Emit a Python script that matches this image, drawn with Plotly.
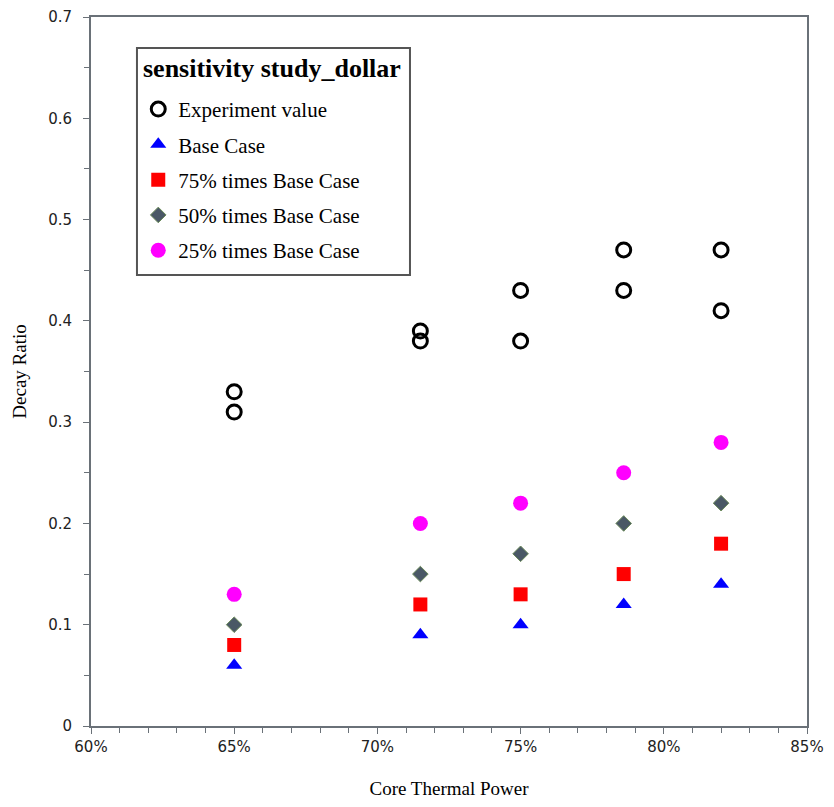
import plotly.graph_objects as go

power = [0.65, 0.715, 0.75, 0.786, 0.82]
exp_power = [0.65, 0.65, 0.715, 0.715, 0.75, 0.75, 0.786, 0.786, 0.82, 0.82]
exp_values = [0.33, 0.31, 0.39, 0.38, 0.43, 0.38, 0.47, 0.43, 0.47, 0.41]
base_case = [0.06, 0.09, 0.10, 0.12, 0.14]
case_75 = [0.08, 0.12, 0.13, 0.15, 0.18]
case_50 = [0.10, 0.15, 0.17, 0.20, 0.22]
case_25 = [0.13, 0.20, 0.22, 0.25, 0.28]
legend_title = "sensitivity study_dollar"

fig = go.Figure()
fig.add_trace(go.Scatter(x=exp_power, y=exp_values, mode="markers", name="Experiment value", legendgroup="a",
                         marker=dict(symbol="circle-open", size=14, color="black", line=dict(width=3, color="black"))))
fig.add_trace(go.Scatter(x=power, y=base_case, mode="markers", name="Base Case", legendgroup="b",
                         marker=dict(symbol="triangle-up", size=14, color="#0000ff")))
fig.add_trace(go.Scatter(x=power, y=case_75, mode="markers", name="75% times Base Case", legendgroup="c",
                         marker=dict(symbol="square", size=14, color="#ff0000")))
fig.add_trace(go.Scatter(x=power, y=case_50, mode="markers", name="50% times Base Case", legendgroup="d",
                         marker=dict(symbol="diamond", size=12, color="#4a5866", line=dict(width=1, color="#6b8a5a"))))
fig.add_trace(go.Scatter(x=power, y=case_25, mode="markers", name="25% times Base Case", legendgroup="e",
                         marker=dict(symbol="circle", size=15, color="#ff00ff")))

# legend frame and title
fig.add_shape(type="rect", xref="paper", yref="paper", x0=0.0642, x1=0.4455, y0=0.6361, y1=0.9563,
              line=dict(color="#555555", width=2), fillcolor="white", layer="below")
fig.add_annotation(text="<b>" + legend_title + "</b>", xref="paper", yref="paper", x=0.2528, y=0.928,
                   xanchor="center", yanchor="middle", showarrow=False,
                   font=dict(family="Liberation Serif", size=26, color="black"))

axis_color = "#6a7178"
fig.update_layout(
    width=818, height=791,
    margin=dict(l=83, r=19, t=9, b=73, autoexpand=False),
    plot_bgcolor="white", paper_bgcolor="white",
    showlegend=True,
    legend=dict(
        font=dict(family="Liberation Serif", size=21, color="black"),
        x=0.066, y=0.8986, xanchor="left", yanchor="top",
        bgcolor="rgba(0,0,0,0)", borderwidth=0,
        itemwidth=30, tracegroupgap=5,
    ),
    xaxis=dict(
        range=[0.60, 0.85], dtick=0.05, tick0=0.60, tickformat=".0%",
        showgrid=False, zeroline=False,
        showline=True, linecolor=axis_color, linewidth=2, mirror=True,
        ticks="outside", ticklen=6, tickcolor=axis_color, tickwidth=1,
        minor=dict(dtick=0.01, ticks="outside", ticklen=5, tickcolor=axis_color, tickwidth=1),
        tickfont=dict(family="DejaVu Sans", size=15, color="#222222"),
        title=dict(text="Core Thermal Power", font=dict(family="Liberation Serif", size=19, color="black"), standoff=30),
    ),
    yaxis=dict(
        range=[0, 0.7], dtick=0.1, tick0=0, tickformat=".1~f",
        showgrid=False, zeroline=False,
        showline=True, linecolor=axis_color, linewidth=2, mirror=True,
        ticks="outside", ticklen=6, tickcolor=axis_color, tickwidth=1,
        minor=dict(dtick=0.05, ticks="outside", ticklen=5, tickcolor=axis_color, tickwidth=1),
        tickfont=dict(family="DejaVu Sans", size=15, color="#222222"),
        ticklabelstandoff=8,
        title=dict(text="Decay Ratio", font=dict(family="Liberation Serif", size=19, color="black"), standoff=16),
    ),
)
fig.write_html("out.html")
